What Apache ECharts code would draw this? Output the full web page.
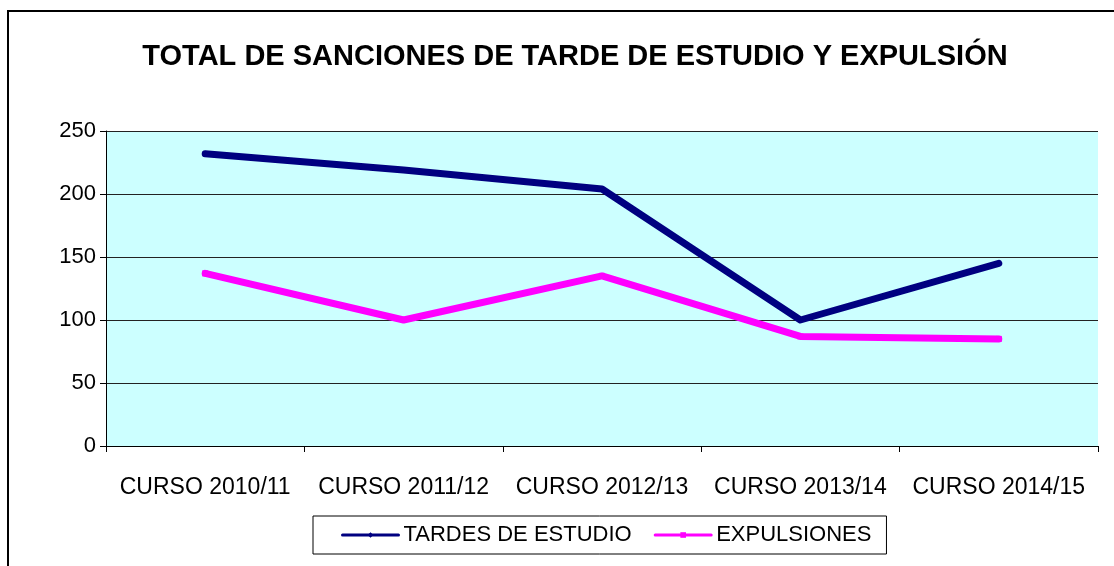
<!DOCTYPE html>
<html>
<head>
<meta charset="utf-8">
<script src="https://cdn.jsdelivr.net/npm/echarts@6/dist/echarts.min.js"></script>
<style>
  html, body { margin: 0; padding: 0; background: #fff; }
  #chart { width: 1114px; height: 566px; }
</style>
</head>
<body>
<div id="chart"></div>
<script>
// School years
const categories = ['CURSO 2010/11', 'CURSO 2011/12', 'CURSO 2012/13', 'CURSO 2013/14', 'CURSO 2014/15'];
// Sanction totals per year
const tardesDeEstudio = [232, 219, 204, 100, 145];
const expulsiones = [137, 100, 135, 87, 85];
// Value axis ticks
const yTicks = [0, 50, 100, 150, 200, 250];

const FONT = 'Liberation Sans, Arial, sans-serif';

const chart = echarts.init(document.getElementById('chart'), null, { renderer: 'canvas' });

chart.setOption({
  backgroundColor: '#ffffff',
  animation: false,
  graphic: [{
    type: 'rect',
    shape: { x: 8, y: 11, width: 1130, height: 600 },
    style: { fill: 'none', stroke: '#000', lineWidth: 2 },
    silent: true
  }],
  title: {
    text: 'TOTAL DE SANCIONES DE TARDE DE ESTUDIO Y EXPULSIÓN',
    left: 570,
    textAlign: 'center',
    top: 37,
    textStyle: { fontFamily: FONT, fontSize: 29, fontWeight: 'bold', color: '#000' }
  },
  legend: {
    left: 313,
    top: 516,
    padding: [8, 15, 8, 28],
    itemGap: 22,
    itemWidth: 56,
    itemHeight: 7,
    borderColor: '#000',
    borderWidth: 1,
    lineStyle: { width: 3 },
    textStyle: { fontFamily: FONT, fontSize: 22, color: '#000' },
    data: ['TARDES DE ESTUDIO', 'EXPULSIONES']
  },
  grid: { left: 106, right: 16, top: 131, bottom: 120, containLabel: false,
          show: true, backgroundColor: '#CCFFFF', borderWidth: 0 },
  xAxis: {
    type: 'category',
    data: categories,
    boundaryGap: true,
    axisLine: { lineStyle: { color: '#000', width: 1 } },
    axisTick: { show: true, length: 6, lineStyle: { color: '#000' } },
    axisLabel: { interval: 0, fontFamily: FONT, fontSize: 23, color: '#000', margin: 30 }
  },
  yAxis: {
    type: 'value',
    min: yTicks[0],
    max: yTicks[yTicks.length - 1],
    interval: 50,
    axisLine: { show: true, lineStyle: { color: '#000', width: 1 } },
    axisTick: { show: true, length: 6, lineStyle: { color: '#000' } },
    axisLabel: { fontFamily: FONT, fontSize: 22, color: '#000', margin: 10 },
    splitLine: { show: true, lineStyle: { color: '#222', width: 1.2 } }
  },
  series: [
    {
      name: 'TARDES DE ESTUDIO',
      type: 'line',
      data: tardesDeEstudio,
      symbol: 'diamond',
      symbolSize: 6,
      showSymbol: true,
      color: '#000080',
      itemStyle: { color: '#000080' },
      lineStyle: { color: '#000080', width: 7, cap: 'round', join: 'round' },
      z: 3
    },
    {
      name: 'EXPULSIONES',
      type: 'line',
      data: expulsiones,
      symbol: 'rect',
      symbolSize: 6,
      showSymbol: true,
      color: '#FF00FF',
      itemStyle: { color: '#FF00FF' },
      lineStyle: { color: '#FF00FF', width: 7, cap: 'round', join: 'round' },
      z: 2
    }
  ]
});
</script>
</body>
</html>
